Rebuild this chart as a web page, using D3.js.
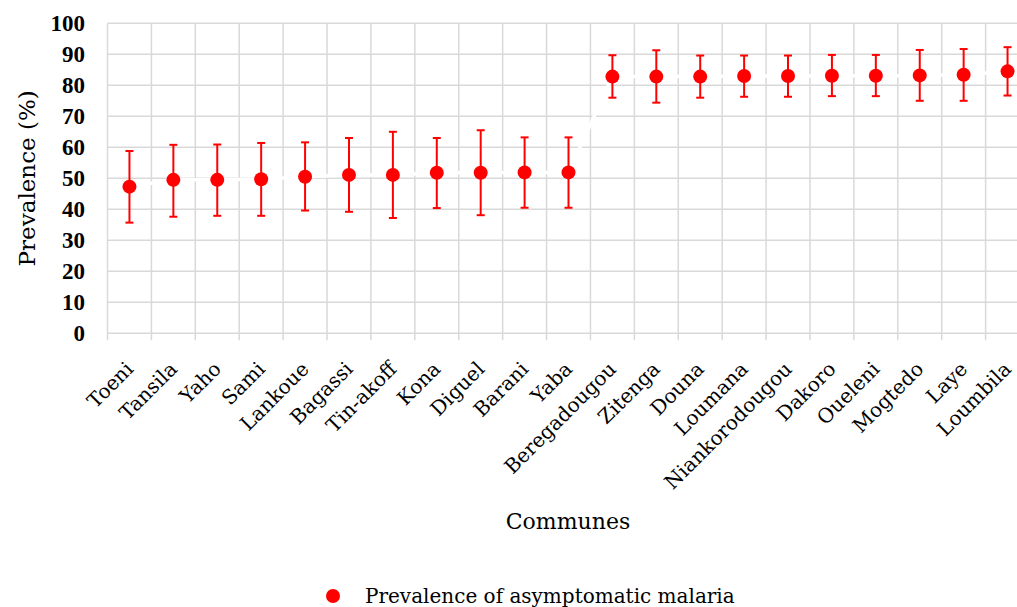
<!DOCTYPE html>
<html>
<head>
<meta charset="utf-8">
<script src="https://cdn.jsdelivr.net/npm/d3@7"></script>
<style>
  body { margin: 0; background: #fff; }
  svg { display: block; }
  .grid line { stroke: #d9d9d9; stroke-width: 1.5; }
  .ytick { font-family: "Liberation Serif", serif; font-weight: bold; font-size: 23px; fill: #000; }
  .xlab { font-family: "DejaVu Serif", serif; font-size: 20px; fill: #000; }
  .title { font-family: "DejaVu Serif", serif; font-size: 22px; fill: #000; }
</style>
</head>
<body>
<svg id="chart" width="1017" height="607"></svg>
<script>
var communes = ['Toeni', 'Tansila', 'Yaho', 'Sami', 'Lankoue', 'Bagassi', 'Tin-akoff', 'Kona',
  'Diguel', 'Barani', 'Yaba', 'Beregadougou', 'Zitenga', 'Douna', 'Loumana', 'Niankorodougou',
  'Dakoro', 'Oueleni', 'Mogtedo', 'Laye', 'Loumbila'];
var prevalence = [47.3, 49.5, 49.5, 49.7, 50.5, 51.1, 51.1, 51.8, 51.8, 51.9, 51.9,
  82.8, 82.8, 82.8, 83.0, 83.0, 83.1, 83.1, 83.2, 83.4, 84.5];
var lower = [35.7, 37.6, 37.9, 37.9, 39.6, 39.2, 37.2, 40.4, 38.1, 40.5, 40.5,
  76.0, 74.4, 76.0, 76.3, 76.3, 76.5, 76.5, 75.0, 75.0, 76.7];
var upper = [58.8, 60.8, 60.9, 61.4, 61.6, 63.0, 65.0, 63.0, 65.5, 63.2, 63.2,
  89.7, 91.3, 89.6, 89.6, 89.6, 89.8, 89.8, 91.4, 91.7, 92.3];
var yTicks = [0, 10, 20, 30, 40, 50, 60, 70, 80, 90, 100];

var data = communes.map(function(c, i) {
  return { name: c, value: prevalence[i], lo: lower[i], hi: upper[i] };
});

var svg = d3.select('#chart');
var plotLeft = 107.5, plotTop = 23.3, plotBottom = 333.3;
var plotRight = 1029.5; // last band runs past the picture edge

var x = d3.scaleBand().domain(communes).range([plotLeft, plotRight]).padding(0);
var y = d3.scaleLinear().domain([0, 100]).range([plotBottom, plotTop]);

var grid = svg.append('g').attr('class', 'grid');
grid.selectAll('line.h')
    .data(yTicks)
  .enter().append('line')
    .attr('x1', plotLeft).attr('x2', 1017)
    .attr('y1', function(d) { return y(d); })
    .attr('y2', function(d) { return y(d); });
grid.selectAll('line.v')
    .data(communes)
  .enter().append('line')
    .attr('x1', function(d) { return x(d); })
    .attr('x2', function(d) { return x(d); })
    .attr('y1', plotTop).attr('y2', plotBottom + 7);

svg.append('g').selectAll('text')
    .data(yTicks)
  .enter().append('text')
    .attr('class', 'ytick')
    .attr('x', 85)
    .attr('y', function(d) { return y(d) + 7.5; })
    .attr('text-anchor', 'end')
    .text(function(d) { return d; });

var cx = function(d) { return x(d.name) + x.bandwidth() / 2; };

// white series line hiding grid
svg.append('path')
    .datum(data)
    .attr('fill', 'none')
    .attr('stroke', '#fff')
    .attr('stroke-width', 3.5)
    .attr('d', d3.line().x(cx).y(function(d) { return y(d.value); }));

var bars = svg.append('g').attr('stroke', '#ff0000').attr('stroke-width', 2);
bars.selectAll('line.bar')
    .data(data)
  .enter().append('line')
    .attr('x1', cx).attr('x2', cx)
    .attr('y1', function(d) { return y(d.lo); })
    .attr('y2', function(d) { return y(d.hi); });
bars.selectAll('line.capHi')
    .data(data)
  .enter().append('line')
    .attr('x1', function(d) { return cx(d) - 4; })
    .attr('x2', function(d) { return cx(d) + 4; })
    .attr('y1', function(d) { return y(d.hi); })
    .attr('y2', function(d) { return y(d.hi); });
bars.selectAll('line.capLo')
    .data(data)
  .enter().append('line')
    .attr('x1', function(d) { return cx(d) - 4; })
    .attr('x2', function(d) { return cx(d) + 4; })
    .attr('y1', function(d) { return y(d.lo); })
    .attr('y2', function(d) { return y(d.lo); });

svg.append('g').selectAll('circle')
    .data(data)
  .enter().append('circle')
    .attr('cx', cx)
    .attr('cy', function(d) { return y(d.value); })
    .attr('r', 7)
    .attr('fill', '#ff0000');

svg.append('g').selectAll('text')
    .data(communes)
  .enter().append('text')
    .attr('class', 'xlab')
    .attr('text-anchor', 'end')
    .attr('transform', function(d) {
      return 'translate(' + (x(d) + x.bandwidth() / 2 + 5) + ',' + (plotBottom + 37) + ') rotate(-45)';
    })
    .text(function(d) { return d; });

svg.append('text')
    .attr('class', 'title')
    .attr('text-anchor', 'middle')
    .style('font-size', '23px')
    .attr('transform', 'translate(35,' + ((plotTop + plotBottom) / 2) + ') rotate(-90)')
    .text('Prevalence (%)');

svg.append('text')
    .attr('class', 'title')
    .attr('text-anchor', 'middle')
    .attr('x', 568).attr('y', 529)
    .text('Communes');

svg.append('circle').attr('cx', 333).attr('cy', 596).attr('r', 7).attr('fill', '#ff0000');
svg.append('text')
    .attr('class', 'title')
    .style('font-size', '20px')
    .attr('x', 365).attr('y', 603)
    .text('Prevalence of asymptomatic malaria');
</script>
</body>
</html>
